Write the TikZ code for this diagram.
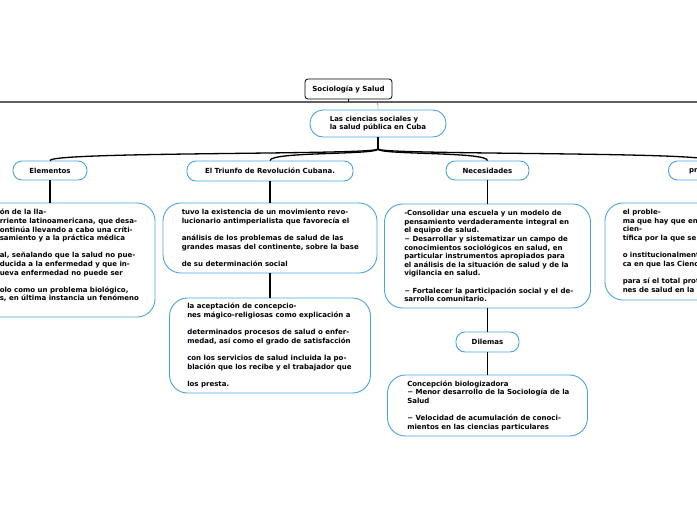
\documentclass[tikz,border=0pt]{standalone}
\usepackage{fontspec}
\setmainfont{DejaVu Sans}
\usetikzlibrary{positioning,calc}
\definecolor{mapblue}{RGB}{74,163,226}
\definecolor{bargray}{RGB}{96,96,96}
\tikzset{topic/.style={draw=mapblue, line width=0.9pt, rounded corners=9pt, minimum height=19pt, inner sep=2pt, font=\bfseries\fontsize{7}{8.6}\selectfont}}
\tikzset{detail box/.style={draw=mapblue, line width=0.9pt, rounded corners=18pt}}
\tikzset{detail text/.style={inner sep=0pt, align=left, font=\bfseries\fontsize{7}{8.6}\selectfont}}
\tikzset{link/.style={line width=1.2pt}}
\tikzset{branch/.style={line width=1.3pt}}

\begin{document}
\begin{tikzpicture}[x=1pt, y=-1pt, node distance=2cm]
\useasboundingbox (0,0) rectangle (697,520);
\clip (0,0) rectangle (697,520);
\node[draw=black, line width=0.8pt, rounded corners=3pt, minimum width=87pt, minimum height=20pt, inner sep=2pt, font=\bfseries\fontsize{7}{8.6}\selectfont] (root) at (348.5,89) {Sociología y Salud};
\coordinate (barL) at (0,102);
\coordinate (barR) at (697,102);
\coordinate (bend) at (371,102);
\node[topic, rounded corners=13pt, minimum width=136pt, minimum height=27pt, align=left] (sub) at (378,123.5) {Las ciencias sociales y\\la salud pública en Cuba};
\coordinate (hub) at (378,149);
\node[topic, minimum width=74pt] (el) at (50,170.5) {Elementos};
\node[topic, minimum width=166pt, minimum height=20pt] (tri) at (270,171) {El Triunfo de Revolución Cubana.};
\node[topic, minimum width=83pt] (nec) at (487.5,170.5) {Necesidades};
\node[topic, minimum width=83pt] (pro) at (710,170.5) {problemas};

\node[detail box, minimum width=210pt, minimum height=114pt, below of=el, node distance=89.5pt] (el1) {};
\node[detail box, minimum width=214pt, minimum height=70pt, below of=tri, node distance=67pt] (tri1) {};
\node[detail box, minimum width=201pt, minimum height=95pt, below of=tri1, node distance=107.5pt] (tri2) {};
\node[detail box, minimum width=206pt, minimum height=104pt, below of=nec, node distance=85.5pt] (nec1) {};
\node[topic, minimum width=63pt, minimum height=20pt, below of=nec1, node distance=86pt] (dil) {Dilemas};
\node[detail box, minimum width=200pt, minimum height=61pt, below of=dil, node distance=63.5pt] (dil1) {};
\node[detail box, minimum width=210pt, minimum height=97pt, below of=pro, node distance=81pt] (pro1) {};

\node[detail text, right=55pt of el1.west, yshift=4.5pt] (el1t) {ón de la lla-\\
rriente latinoamericana, que desa-\\
ontinúa llevando a cabo una críti-\\
samiento y a la práctica médica\\[8.6pt]
al, señalando que la salud no pue-\\
ducida a la enfermedad y que in-\\
ueva enfermedad no puede ser\\[8.6pt]
olo como un problema biológico,\\
s, en última instancia un fenómeno};
\node[detail text, right=19pt of tri1.west] (tri1t) {tuvo la existencia de un movimiento revo-\\
lucionario antimperialista que favorecía el\\[8.6pt]
análisis de los problemas de salud de las\\
grandes masas del continente, sobre la base\\[8.6pt]
de su determinación social};
\node[detail text, right=18pt of tri2.west] (tri2t) {la aceptación de concepcio-\\
nes mágico-religiosas como explicación a\\[8.6pt]
determinados procesos de salud o enfer-\\
medad, así como el grado de satisfacción\\[8.6pt]
con los servicios de salud incluida la po-\\
blación que los recibe y el trabajador que\\[8.6pt]
los presta.};
\node[detail text, right=20pt of nec1.west] (nec1t) {-Consolidar una escuela y un modelo de\\
pensamiento verdaderamente integral en\\
el equipo de salud.\\
− Desarrollar y sistematizar un campo de\\
conocimientos sociológicos en salud, en\\
particular instrumentos apropiados para\\
el análisis de la situación de salud y de la\\
vigilancia en salud.\\[8.6pt]
− Fortalecer la participación social y el de-\\
sarrollo comunitario.};
\node[detail text, right=20pt of dil1.west] (dil1t) {Concepción biologizadora\\
− Menor desarrollo de la Sociología de la\\
Salud\\[8.6pt]
− Velocidad de acumulación de conoci-\\
mientos en las ciencias particulares};
\node[detail text, right=18pt of pro1.west] (pro1t) {el proble-\\
ma que hay que enfrentar\\
cien-\\
tífica por la que se trata\\[8.6pt]
o institucionalmente\\
ca en que las Ciencias\\[8.6pt]
para sí el total protagonismo\\
nes de salud en la población};

\draw[bargray, line width=1.4pt] (barL) -- (barR);
\draw[line width=0.8pt] (root.south) -- (root.south |- barL);
\draw[bargray, line width=0.4pt, rounded corners=3pt] (bend) -| (sub.north);
\draw[link] (sub.south) -- (hub);
\foreach \t in {el,tri,nec,pro}
  \draw[branch] (hub) .. controls ($(hub)+(0,6)$) and ($(\t.north)+(0,-9)$) .. (\t.north);
\draw[link] (el) -- (el1);
\draw[link] (tri) -- (tri1);
\draw[link] (tri1) -- (tri2);
\draw[link] (nec) -- (nec1);
\draw[link] (nec1) -- (dil);
\draw[link] (dil) -- (dil1);
\draw[link] (pro) -- (pro1);
\end{tikzpicture}
\end{document}
